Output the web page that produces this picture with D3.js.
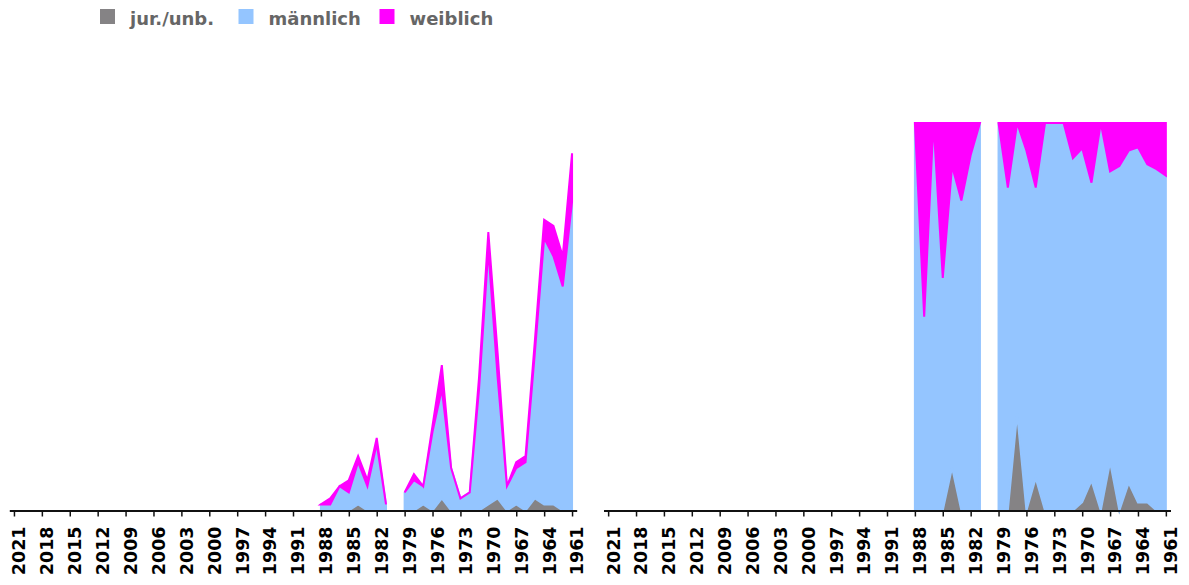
<!DOCTYPE html>
<html>
<head>
<meta charset="utf-8">
<script src="https://cdn.jsdelivr.net/npm/d3@7"></script>
<style>
  html, body { margin: 0; padding: 0; background: #fff; }
  svg { display: block; font-family: "DejaVu Sans", sans-serif; }
</style>
</head>
<body>
<svg id="chart" width="1189" height="585"></svg>
<script>
// Birth years (descending); 1980 has no record.
const years = [1988, 1987, 1986, 1985, 1984, 1983, 1982, 1981, 1980,
               1979, 1978, 1977, 1976, 1975, 1974, 1973, 1972, 1971, 1970,
               1969, 1968, 1967, 1966, 1965, 1964, 1963, 1962, 1961];
const jur       = [0, 0, 0, 0, 1, 0, 0, 0, null,
                   0, 0, 1, 0, 2, 0, 0, 0, 0, 1,
                   2, 0, 1, 0, 2, 1, 1, 0, 0];
const maennlich = [1, 1, 4, 3, 7, 4, 11, 1, null,
                   3, 5, 3, 13, 18, 7, 2, 3, 20, 42,
                   20, 4, 6, 8, 24, 44, 41, 37, 51];
const weiblich  = [0, 1, 0, 2, 1, 1, 1, 0, null,
                   0, 1, 0, 1, 4, 0, 0, 0, 2, 3,
                   4, 0, 1, 1, 2, 3, 5, 5, 8];

const seriesNames = ["jur./unb.", "männlich", "weiblich"];
const colors = ["#858385", "#94c5ff", "#ff00ff"];
const tickYears = d3.range(2021, 1960, -3);
const yearDomain = [2021.5, 1960.5];
const absMax = 64;

const rows = years.map((y, i) => ({
  year: y,
  defined: jur[i] !== null,
  "jur./unb.": jur[i] || 0,
  "männlich": maennlich[i] || 0,
  "weiblich": weiblich[i] || 0
}));

const svg = d3.select("#chart");
const yRange = [510.5, 123];

function panel(x0, x1, offset, yDomain) {
  const x = d3.scaleLinear().domain(yearDomain).range([x0, x1]);
  const y = d3.scaleLinear().domain(yDomain).range(yRange);
  const stacked = d3.stack().keys(seriesNames).offset(offset)(rows);

  const area = d3.area()
    .defined(d => d.data.defined)
    .x(d => x(d.data.year))
    .y0(d => y(d[0]))
    .y1(d => y(d[1]));

  const g = svg.append("g");
  g.selectAll("path.layer")
    .data(stacked)
    .join("path")
    .attr("class", "layer")
    .attr("d", area)
    .attr("fill", (d, i) => colors[i])
    .attr("stroke", (d, i) => colors[i])
    .attr("stroke-width", 2);

  const axis = d3.axisBottom(x)
    .tickValues(tickYears)
    .tickFormat(d3.format("d"))
    .tickSize(6)
    .tickSizeOuter(0);

  const ax = g.append("g")
    .attr("transform", `translate(0,${yRange[0]})`)
    .call(axis);
  ax.select(".domain").attr("stroke", "#111").attr("stroke-width", 2);
  ax.selectAll(".tick line").attr("stroke", "#111").attr("stroke-width", 1.5);
  ax.selectAll(".tick text")
    .attr("transform", "rotate(-90)")
    .attr("x", -16)
    .attr("y", 0)
    .attr("dy", "0.62em")
    .attr("text-anchor", "end")
    .attr("fill", "#000")
    .style("font-family", "'DejaVu Sans', sans-serif")
    .style("font-size", "17.5px")
    .style("font-weight", "bold");
}

panel(9.3, 576.7, d3.stackOffsetNone, [0, absMax]);
panel(603.5, 1170.5, d3.stackOffsetExpand, [0, 1]);

// Legend
const legendX = [100, 238.5, 379.5];
const legend = svg.append("g");
seriesNames.forEach((name, i) => {
  legend.append("rect")
    .attr("x", legendX[i]).attr("y", 9)
    .attr("width", 15).attr("height", 15)
    .attr("fill", colors[i]);
  legend.append("text")
    .attr("x", legendX[i] + 30).attr("y", 25)
    .attr("fill", "#666")
    .style("font-size", "18px")
    .style("font-weight", "bold")
    .text(name);
});
</script>
</body>
</html>
